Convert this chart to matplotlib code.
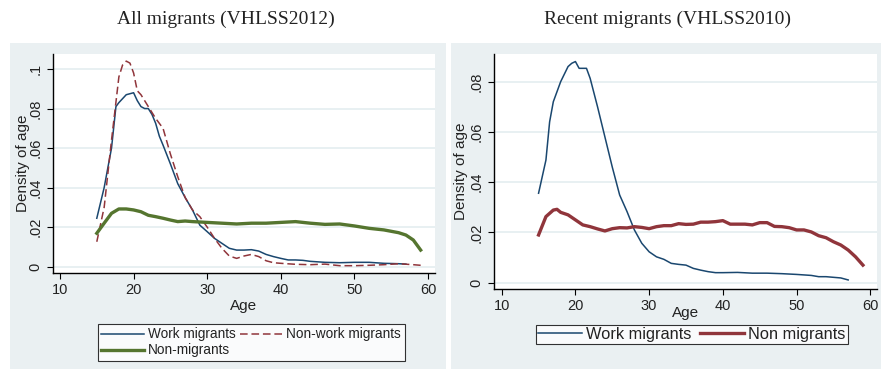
import matplotlib
matplotlib.use('Agg')
import matplotlib.pyplot as plt
from matplotlib.patches import Rectangle

# All migrants (VHLSS2012)
age_work12 = [15, 16, 17, 17.6, 18, 18.5, 19, 20, 20.5, 21, 21.5, 22, 22.5, 23, 23.5, 24, 25, 26, 27, 28,
              29, 30, 31, 32, 33, 34, 35, 36, 37, 38, 39, 40, 41, 42, 43, 44, 46, 48, 50, 52, 54, 56, 57]
work12 = [0.0245, 0.040, 0.060, 0.081, 0.083, 0.085, 0.087, 0.088, 0.084, 0.081, 0.080, 0.080, 0.077, 0.0725,
          0.066, 0.0615, 0.052, 0.042, 0.035, 0.0287, 0.021, 0.0177, 0.0143, 0.0118, 0.0093, 0.0084, 0.0084,
          0.0086, 0.0079, 0.0062, 0.0051, 0.0042, 0.0034, 0.0034, 0.0032, 0.0027, 0.0022, 0.002, 0.0022,
          0.0022, 0.0017, 0.0015, 0.0013]

age_nonwork12 = [15, 16, 17, 18, 18.5, 19, 19.5, 20, 20.5, 21, 22, 23, 24, 25, 26, 27, 28, 29, 30, 31, 32,
                 33, 34, 35, 36, 37, 38, 39, 40, 42, 44, 46, 48, 50, 52, 54, 56, 58, 59]
nonwork12 = [0.0126, 0.030, 0.064, 0.096, 0.102, 0.104, 0.103, 0.098, 0.089, 0.087, 0.081, 0.075, 0.070,
             0.057, 0.0455, 0.035, 0.0287, 0.0253, 0.020, 0.0143, 0.0093, 0.0054, 0.0042, 0.0054, 0.0062,
             0.0051, 0.003, 0.002, 0.0017, 0.0012, 0.001, 0.0013, 0.0005, 0.0005, 0.0007, 0.001, 0.0015,
             0.001, 0.0007]

age_non12 = [15, 16, 17, 18, 19, 20, 21, 22, 23, 24, 25, 26, 27, 28, 30, 32, 34, 36, 38, 40, 42, 44, 46,
             48, 50, 52, 54, 56, 57, 58, 59]
non12 = [0.0169, 0.022, 0.027, 0.0292, 0.0292, 0.0287, 0.0278, 0.026, 0.0253, 0.0245, 0.0236, 0.0228,
         0.0231, 0.0228, 0.0224, 0.022, 0.0216, 0.022, 0.022, 0.0224, 0.0228, 0.022, 0.0214, 0.0216, 0.0206,
         0.0194, 0.0186, 0.0172, 0.016, 0.0135, 0.0084]

# Recent migrants (VHLSS2010)
age_work10 = [15, 16, 16.5, 17, 18, 19, 19.5, 20, 20.5, 21, 21.5, 22, 23, 24, 25, 26, 27, 28, 29, 30, 31,
              32, 33, 34, 35, 36, 37, 38, 39, 40, 42, 44, 46, 48, 50, 52, 53, 54, 56, 57]
work10 = [0.0356, 0.0488, 0.064, 0.072, 0.080, 0.086, 0.0873, 0.088, 0.0853, 0.0853, 0.0853, 0.0813,
          0.070, 0.058, 0.046, 0.0349, 0.0283, 0.021, 0.0157, 0.0123, 0.0103, 0.0093, 0.0077, 0.0073,
          0.007, 0.0057, 0.005, 0.0044, 0.004, 0.004, 0.0041, 0.0038, 0.0038, 0.0036, 0.0033, 0.0029,
          0.0024, 0.0024, 0.0019, 0.0011]

age_non10 = [15, 16, 17, 17.5, 18, 19, 20, 21, 22, 23, 24, 25, 26, 27, 28, 29, 30, 31, 32, 33, 34, 35, 36,
             37, 38, 39, 40, 41, 42, 43, 44, 45, 46, 47, 48, 49, 50, 51, 52, 53, 54, 55, 56, 57, 58, 59]
non10 = [0.019, 0.0263, 0.0289, 0.0292, 0.028, 0.027, 0.025, 0.023, 0.0223, 0.0214, 0.0206, 0.0215,
         0.0219, 0.0218, 0.0223, 0.022, 0.0215, 0.0223, 0.0227, 0.0227, 0.0235, 0.0232, 0.0233, 0.0241,
         0.0241, 0.0243, 0.0247, 0.0233, 0.0233, 0.0233, 0.023, 0.0239, 0.0239, 0.0224, 0.0223, 0.0219,
         0.021, 0.021, 0.0202, 0.0187, 0.0179, 0.0163, 0.015, 0.013, 0.0103, 0.007]

xticks = [10, 20, 30, 40, 50, 60]
yticks12 = [0, 0.02, 0.04, 0.06, 0.08, 0.1]
ylabels12 = ['0', '.02', '.04', '.06', '.08', '.1']
yticks10 = [0, 0.02, 0.04, 0.06, 0.08]
ylabels10 = ['0', '.02', '.04', '.06', '.08']

navy = '#1a476f'
maroon = '#90353b'
green = '#55752f'
panel = '#eaf0f2'
grid = '#e4eef0'
sans = 'Liberation Sans'

W, H = 881, 369
fig = plt.figure(figsize=(W / 100, H / 100), dpi=100)
fig.patch.set_facecolor('white')

# grey panels behind each graph
for x0, x1 in [(10, 446), (451, 881)]:
    fig.patches.append(Rectangle((x0 / W, 0), (x1 - x0) / W, 1 - 43 / H,
                                 transform=fig.transFigure, facecolor=panel,
                                 edgecolor='none', zorder=-5))


def px_axes(x0, y0, x1, y1):
    ax = fig.add_axes([x0 / W, 1 - y1 / H, (x1 - x0) / W, (y1 - y0) / H])
    ax.set_zorder(2)
    return ax


def style(ax, yticks, ylabels, xpad, ypad):
    ax.set_facecolor('white')
    for s in ['top', 'right']:
        ax.spines[s].set_visible(False)
    for s in ['left', 'bottom']:
        ax.spines[s].set_color('black')
        ax.spines[s].set_linewidth(1.0)
    ax.set_xticks(xticks)
    ax.set_yticks(yticks)
    ax.set_yticklabels(ylabels, rotation=90, va='center')
    for lab in ax.get_xticklabels() + ax.get_yticklabels():
        lab.set_family(sans)
    ax.tick_params(labelsize=10.5, colors='black', length=4, width=0.8, labelcolor='#222222')
    ax.yaxis.grid(True, color=grid, linewidth=1.2)
    ax.set_axisbelow(True)
    ax.set_xlabel('Age', fontsize=11, labelpad=xpad, family=sans, color='#222222')
    ax.set_ylabel('Density of age', fontsize=11, labelpad=ypad, family=sans, color='#222222')


def legend(ax, handles, x0, ytop, axbox, fs, **kw):
    ax_x0, ax_y1, ax_w, ax_h = axbox
    lg = ax.legend(handles=handles, loc='upper left',
                   bbox_to_anchor=((x0 - ax_x0) / ax_w, -(ytop - ax_y1) / ax_h),
                   ncol=2, frameon=True, fancybox=False,
                   prop={'family': sans, 'size': fs},
                   borderaxespad=0, **kw)
    lg.get_frame().set_edgecolor('black')
    lg.get_frame().set_linewidth(0.8)
    for t in lg.get_texts():
        t.set_color('#222222')
    return lg


ax1 = px_axes(53, 54, 435, 273)
h1, = ax1.plot(age_work12, work12, color=navy, lw=1.1, label='Work migrants')
h2, = ax1.plot(age_nonwork12, nonwork12, color=maroon, lw=1.1, ls=(0, (5, 2.5)), label='Non-work migrants')
h3, = ax1.plot(age_non12, non12, color=green, lw=2.4, label='Non-migrants')
ax1.set_xlim(9.05, 60.95)
ax1.set_ylim(-0.0032, 0.1076)
style(ax1, yticks12, ylabels12, 1, -1)
legend(ax1, [h1, h3, h2], 98, 324, (53, 273, 382, 219), 9.8,
       borderpad=0.25, handlelength=3.1, handletextpad=0.35, labelspacing=0.15,
       columnspacing=0.25)

ax2 = px_axes(494, 54, 877, 289)
g1, = ax2.plot(age_work10, work10, color=navy, lw=1.1, label='Work migrants')
g2, = ax2.plot(age_non10, non10, color=maroon, lw=2.4, label='Non migrants')
ax2.set_xlim(8.955, 60.91)
ax2.set_ylim(-0.0025, 0.091)
style(ax2, yticks10, ylabels10, -5, 1)
legend(ax2, [g1, g2], 536, 325, (494, 289, 383, 235), 11.8,
       borderpad=0.12, handlelength=2.7, handletextpad=0.25, columnspacing=0.5)

fig.text(226 / W, 1 - 19 / H, 'All migrants (VHLSS2012)', ha='center', va='center',
         fontsize=14, family='Liberation Serif', color='#222222')
fig.text(667 / W, 1 - 19 / H, 'Recent migrants (VHLSS2010)', ha='center', va='center',
         fontsize=14, family='Liberation Serif', color='#222222')

fig.savefig('out.png', dpi=100)
